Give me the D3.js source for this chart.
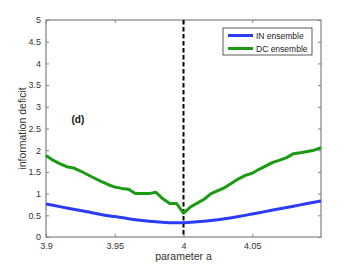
<!DOCTYPE html>
<html>
<head>
<meta charset="utf-8">
<script src="https://cdn.jsdelivr.net/npm/d3@7"></script>
<style>
  body { margin: 0; background: #fff; }
  text { font-family: "Liberation Sans", Arial, sans-serif; }
</style>
</head>
<body>
<div id="chart"></div>
<script>
var width = 354,
    height = 267;
var margin = {left: 46, right: 33, top: 20, bottom: 30};

// parameter a
var paramA = [3.900, 3.905, 3.910, 3.915, 3.920, 3.925, 3.930, 3.935, 3.940, 3.945,
              3.950, 3.955, 3.960, 3.965, 3.970, 3.975, 3.980, 3.985, 3.990, 3.995,
              4.000, 4.005, 4.010, 4.015, 4.020, 4.025, 4.030, 4.035, 4.040, 4.045,
              4.050, 4.055, 4.060, 4.065, 4.070, 4.075, 4.080, 4.085, 4.090, 4.095, 4.100];
var dcEnsemble = [1.88, 1.77, 1.69, 1.62, 1.59, 1.52, 1.44, 1.36, 1.28, 1.21,
                  1.15, 1.12, 1.10, 1.00, 1.00, 1.00, 1.03, 0.88, 0.77, 0.77,
                  0.55, 0.69, 0.78, 0.87, 1.00, 1.07, 1.14, 1.24, 1.34, 1.42,
                  1.47, 1.56, 1.64, 1.72, 1.77, 1.83, 1.92, 1.94, 1.97, 2.00, 2.06];
var inParam = [3.90, 3.91, 3.92, 3.93, 3.94, 3.95, 3.96, 3.97, 3.98, 3.99, 4.00,
               4.01, 4.02, 4.03, 4.04, 4.05, 4.06, 4.07, 4.08, 4.09, 4.10];
var inEnsemble = [0.76, 0.70, 0.64, 0.58, 0.52, 0.47, 0.42, 0.38, 0.35, 0.33, 0.33,
                  0.35, 0.38, 0.42, 0.47, 0.53, 0.59, 0.65, 0.71, 0.77, 0.83];
var xTicks = [3.9, 3.95, 4, 4.05];
var yTicks = [0, 0.5, 1, 1.5, 2, 2.5, 3, 3.5, 4, 4.5, 5];
var seriesNames = ["IN ensemble", "DC ensemble"];
var seriesColors = ["#2a3cf5", "#1b9a14"];

var x = d3.scaleLinear().domain([3.9, 4.1]).range([margin.left, width - margin.right]);
var y = d3.scaleLinear().domain([0, 5]).range([height - margin.bottom, margin.top]);

var svg = d3.select("#chart").append("svg")
    .attr("width", width)
    .attr("height", height);

var axisColor = "#808080";

// frame
svg.append("rect")
    .attr("x", x(3.9)).attr("y", y(5))
    .attr("width", x(4.1) - x(3.9)).attr("height", y(0) - y(5))
    .attr("fill", "none").attr("stroke", axisColor).attr("stroke-width", 1.2);

var xAxis = svg.append("g")
    .attr("transform", "translate(0," + y(0) + ")")
    .call(d3.axisBottom(x).tickValues(xTicks).tickSize(-3).tickPadding(6)
        .tickFormat(function (d) { return String(d); }));
var xAxisTop = svg.append("g")
    .attr("transform", "translate(0," + y(5) + ")")
    .call(d3.axisTop(x).tickValues(xTicks).tickSize(-3).tickFormat(""));
var yAxis = svg.append("g")
    .attr("transform", "translate(" + x(3.9) + ",0)")
    .call(d3.axisLeft(y).tickValues(yTicks).tickSize(-3).tickPadding(5)
        .tickFormat(function (d) { return String(d); }));
var yAxisRight = svg.append("g")
    .attr("transform", "translate(" + x(4.1) + ",0)")
    .call(d3.axisRight(y).tickValues(yTicks).tickSize(-3).tickFormat(""));

[xAxis, xAxisTop, yAxis, yAxisRight].forEach(function (g) {
    g.select(".domain").remove();
    g.selectAll("line").attr("stroke", axisColor);
    g.selectAll("text").attr("fill", "#333").attr("font-size", 9)
        .style("font-family", "'Liberation Sans', Arial, sans-serif");
});

// vertical dashed line at a = 4
svg.append("line")
    .attr("x1", x(4)).attr("x2", x(4))
    .attr("y1", y(5)).attr("y2", y(0))
    .attr("stroke", "#000").attr("stroke-width", 2)
    .attr("stroke-dasharray", "4.5,2.5");

var line = d3.line()
    .x(function (d) { return x(d[0]); })
    .y(function (d) { return y(d[1]); });

svg.append("path")
    .datum(d3.zip(inParam, inEnsemble))
    .attr("d", line.curve(d3.curveMonotoneX))
    .attr("fill", "none").attr("stroke", seriesColors[0]).attr("stroke-width", 3);

svg.append("path")
    .datum(d3.zip(paramA, dcEnsemble))
    .attr("d", line.curve(d3.curveLinear))
    .attr("fill", "none").attr("stroke", seriesColors[1]).attr("stroke-width", 3)
    .attr("stroke-linejoin", "round");

// panel label
svg.append("text")
    .attr("x", x(3.9185)).attr("y", y(2.63))
    .attr("font-size", 10).attr("font-weight", "bold")
    .attr("fill", "#111")
    .text("(d)");

// axis labels
svg.append("text")
    .attr("x", x(4)).attr("y", 260)
    .attr("text-anchor", "middle").attr("font-size", 10.5).attr("fill", "#333")
    .text("parameter a");
svg.append("text")
    .attr("transform", "translate(26," + y(2.5) + ") rotate(-90)")
    .attr("text-anchor", "middle").attr("font-size", 10.5).attr("fill", "#333")
    .text("information deficit");

// legend
var legend = svg.append("g").attr("transform", "translate(223,28)");
legend.append("rect")
    .attr("width", 89).attr("height", 27)
    .attr("fill", "#fff").attr("stroke", "#333").attr("stroke-width", 0.8);
seriesNames.forEach(function (name, i) {
    var row = legend.append("g").attr("transform", "translate(0," + (7.5 + i * 13) + ")");
    row.append("line")
        .attr("x1", 5).attr("x2", 30).attr("y1", 0).attr("y2", 0)
        .attr("stroke", seriesColors[i]).attr("stroke-width", 3);
    row.append("text")
        .attr("x", 33).attr("y", 3)
        .attr("font-size", 8.5).attr("fill", "#222")
        .text(name);
});
</script>
</body>
</html>
